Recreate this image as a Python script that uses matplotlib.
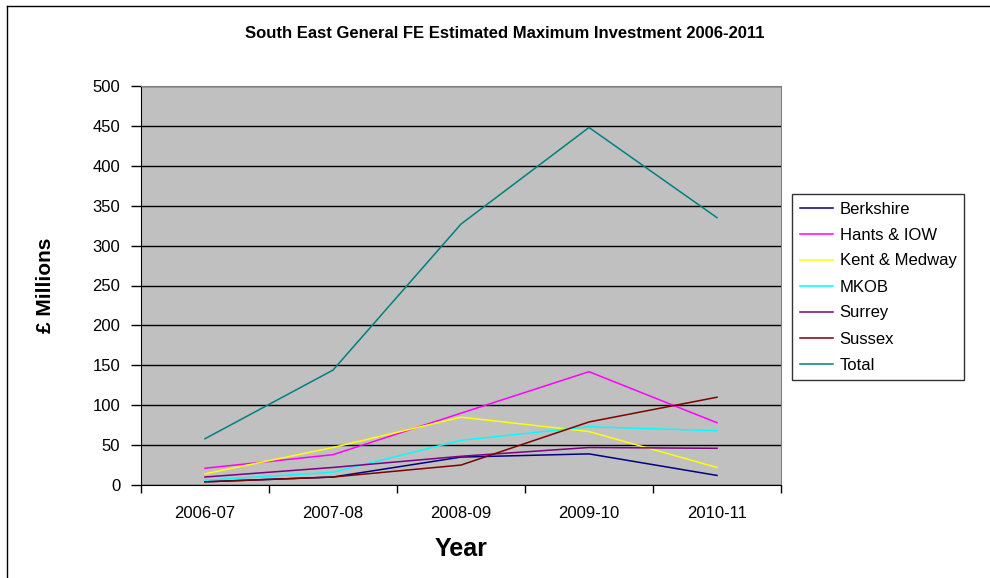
import matplotlib.pyplot as plt
from matplotlib.lines import Line2D

plt.rcParams['font.family'] = ['Liberation Sans', 'DejaVu Sans']

# Estimated maximum investment (GBP millions) per sub-region
years = ["2006-07", "2007-08", "2008-09", "2009-10", "2010-11"]
berkshire = [4, 10, 35, 39, 12]
hants_iow = [21, 38, 90, 142, 78]
kent_medway = [14, 47, 85, 67, 22]
mkob = [6, 16, 56, 73, 68]
surrey = [10, 22, 36, 47, 46]
sussex = [4, 10, 25, 79, 110]
total = [58, 144, 327, 448, 335]

series = [
    ("Berkshire", berkshire, "#000080"),
    ("Hants & IOW", hants_iow, "#FF00FF"),
    ("Kent & Medway", kent_medway, "#FFFF00"),
    ("MKOB", mkob, "#00FFFF"),
    ("Surrey", surrey, "#800080"),
    ("Sussex", sussex, "#800000"),
    ("Total", total, "#008080"),
]

W, H = 990, 578
fig = plt.figure(figsize=(W / 100, H / 100), dpi=100)
ax = fig.add_axes([141 / W, 1 - 485 / H, 640 / W, 399 / H])

x = range(len(years))
for name, vals, col in series:
    ax.plot(x, vals, color=col, lw=1.1, label=name)

ax.set_xlim(-0.5, len(years) - 0.5)
ax.set_ylim(0, 500)
ax.set_yticks(range(0, 501, 50))
# ticks sit between categories, labels at the category centres
ax.set_xticks([i + 0.5 for i in range(-1, len(years))])
ax.set_xticklabels([])
ax.set_xticks(list(x), minor=True)
ax.set_xticklabels(years, minor=True)
ax.tick_params(axis="x", which="minor", length=0, pad=15, labelsize=12)
ax.tick_params(axis="x", which="major", length=6, width=1, direction="out")
ax.tick_params(axis="y", length=7, width=1, direction="out", labelsize=12, pad=8)

ax.set_facecolor("#C0C0C0")
ax.grid(axis="y", color="black", lw=1)
ax.set_axisbelow(True)
for side in ("top", "right"):
    ax.spines[side].set_color("#808080")
for side in ("left", "bottom"):
    ax.spines[side].set_color("black")

ax.set_ylabel("£ Millions", fontsize=15, fontweight="bold", labelpad=27)
ax.set_xlabel("Year", fontsize=18, fontweight="bold", labelpad=12)
fig.text(0.51, 1 - 33 / H, "South East General FE Estimated Maximum Investment 2006-2011",
         ha="center", va="center", fontsize=12, fontweight="bold")

leg = fig.legend(loc="upper left", bbox_to_anchor=(792 / W, 1 - 194 / H),
                 borderaxespad=0, fontsize=12, frameon=True, fancybox=False,
                 handlelength=2.0, handletextpad=0.4, labelspacing=0.66,
                 borderpad=0.45)
leg.get_frame().set_edgecolor("black")
leg.get_frame().set_linewidth(1)

# chart border (top and left edges)
fig.add_artist(Line2D([7 / W, 1], [1 - 6 / H, 1 - 6 / H], color="black", lw=1))
fig.add_artist(Line2D([7 / W, 7 / W], [0, 1 - 6 / H], color="black", lw=1))

fig.savefig("out.png", dpi=100)
